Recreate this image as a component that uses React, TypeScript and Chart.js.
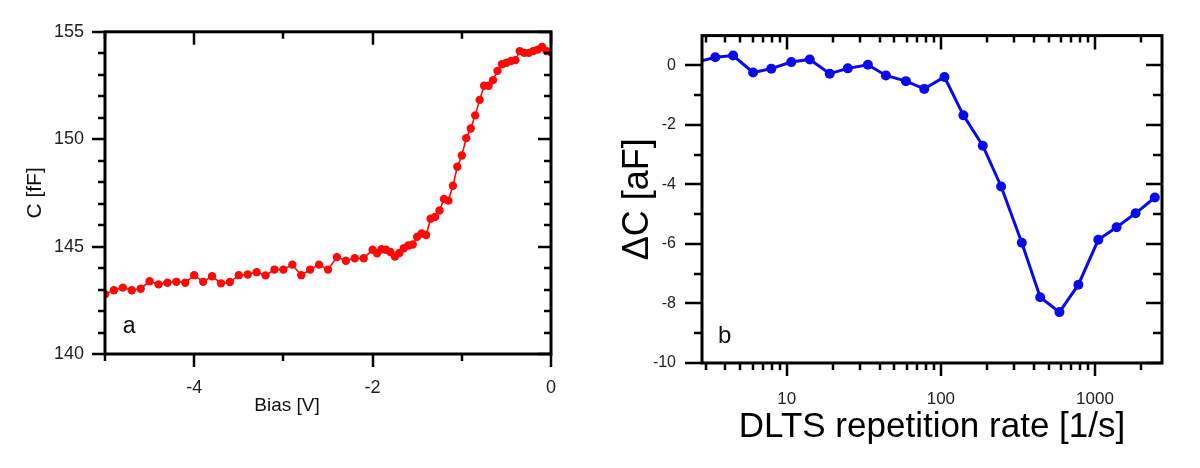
import React, { useEffect, useRef } from 'react';
import { Chart, registerables } from 'chart.js';

Chart.register(...registerables);

// ---- Panel a: C-V curve ----
const biasV = [
  -5.0, -4.9, -4.8, -4.7, -4.6, -4.5, -4.4, -4.3, -4.2, -4.1,
  -4.0, -3.9, -3.8, -3.7, -3.6, -3.5, -3.4, -3.3, -3.2, -3.1,
  -3.0, -2.9, -2.8, -2.7, -2.6, -2.5, -2.4, -2.3, -2.2, -2.1,
  -2.0, -1.95, -1.9, -1.85, -1.8, -1.75, -1.7, -1.65, -1.6, -1.55,
  -1.5, -1.45, -1.4, -1.35, -1.3, -1.25, -1.2, -1.15, -1.1, -1.05,
  -1.0, -0.95, -0.9, -0.85, -0.8, -0.75, -0.7, -0.65, -0.6, -0.55,
  -0.5, -0.45, -0.4, -0.35, -0.3, -0.25, -0.2, -0.15, -0.1, -0.05, 0.0,
];
const capFF = [
  142.78, 142.97, 143.09, 142.97, 143.04, 143.39, 143.24, 143.32, 143.36, 143.32,
  143.67, 143.36, 143.62, 143.29, 143.35, 143.67, 143.7, 143.81, 143.66, 143.93,
  143.93, 144.16, 143.67, 143.93, 144.16, 143.93, 144.51, 144.34, 144.46, 144.46,
  144.85, 144.69, 144.88, 144.85, 144.75, 144.54, 144.7, 144.92, 145.05, 145.1,
  145.46, 145.61, 145.54, 146.3, 146.38, 146.68, 147.22, 147.14, 147.83, 148.72,
  149.24, 150.05, 150.5, 151.11, 151.83, 152.49, 152.49, 152.75, 153.18, 153.49,
  153.56, 153.64, 153.68, 154.1, 154.02, 154.02, 154.1, 154.17, 154.3, 154.1, 154.05,
];
const leftXMajor = [-4, -2, 0];
const leftXMinor = [-5, -3, -1];
const leftYMajor = [140, 145, 150, 155];
const leftYMinor = [141, 142, 143, 144, 146, 147, 148, 149, 151, 152, 153, 154];

// ---- Panel b: DLTS spectrum ----
const rateHz = [
  2.6, 3.44, 4.49, 6.05, 7.94, 10.7, 14.1, 19.0, 24.9, 33.6, 44.0, 59.3, 78.0,
  105.5, 140, 187, 246, 335, 441, 588, 780, 1050, 1380, 1833, 2443,
];
const deltaCaF = [
  0.11, 0.27, 0.33, -0.24, -0.11, 0.11, 0.2, -0.28, -0.1, 0.02, -0.34, -0.53, -0.79,
  -0.39, -1.68, -2.7, -4.07, -5.96, -7.79, -8.29, -7.37, -5.86, -5.44, -4.97, -4.44,
];
const rightXMajor = [10, 100, 1000];
const rightXMinor = [3, 4, 5, 6, 7, 8, 9, 20, 30, 40, 50, 60, 70, 80, 90, 200, 300, 400, 500, 600, 700, 800, 900, 2000];
const rightYMajor = [-10, -8, -6, -4, -2, 0];
const rightYMinor = [-9, -7, -5, -3, -1];

const FONT = "'Liberation Sans', Arial, Helvetica, sans-serif";
const RED = '#ff0808';
const BLUE = '#0a0aeb';

type FrameCfg = {
  xMajor: number[]; xMinor: number[]; yMajor: number[]; yMinor: number[];
  bottom: [number, number]; top: [number, number]; left: [number, number]; right: [number, number];
  frameWidth: number; tickWidth: number;
  texts: (chart: any) => { text: string; x: number; y: number; font: string; align: CanvasTextAlign }[];
};

function makeFramePlugin(cfg: FrameCfg) {
  return {
    id: 'frameTicks',
    afterDraw(chart: any) {
      const { ctx, chartArea: a, scales } = chart;
      const xs = scales.x;
      const ys = scales.y;
      ctx.save();
      ctx.strokeStyle = '#000';
      ctx.lineCap = 'butt';
      ctx.lineWidth = cfg.tickWidth;
      const xTicks = (vals: number[], major: boolean) => {
        for (const v of vals) {
          const px = Math.round(xs.getPixelForValue(v));
          const lb = major ? cfg.bottom[0] : cfg.bottom[1];
          const lt = major ? cfg.top[0] : cfg.top[1];
          ctx.beginPath();
          ctx.moveTo(px, a.bottom);
          ctx.lineTo(px, a.bottom + lb);
          ctx.moveTo(px, a.top);
          ctx.lineTo(px, a.top + lt);
          ctx.stroke();
        }
      };
      const yTicks = (vals: number[], major: boolean) => {
        for (const v of vals) {
          const py = Math.round(ys.getPixelForValue(v));
          const ll = major ? cfg.left[0] : cfg.left[1];
          const lr = major ? cfg.right[0] : cfg.right[1];
          ctx.beginPath();
          ctx.moveTo(a.left, py);
          ctx.lineTo(a.left - ll, py);
          ctx.moveTo(a.right, py);
          ctx.lineTo(a.right - lr, py);
          ctx.stroke();
        }
      };
      xTicks(cfg.xMajor, true);
      xTicks(cfg.xMinor, false);
      yTicks(cfg.yMajor, true);
      yTicks(cfg.yMinor, false);
      ctx.lineWidth = cfg.frameWidth;
      ctx.strokeRect(a.left, a.top, a.right - a.left, a.bottom - a.top);
      ctx.fillStyle = '#111';
      ctx.textBaseline = 'alphabetic';
      for (const t of cfg.texts(chart)) {
        ctx.font = t.font;
        ctx.textAlign = t.align;
        ctx.fillText(t.text, t.x, t.y);
      }
      ctx.restore();
    },
  };
}

function PanelA() {
  const ref = useRef<HTMLCanvasElement>(null);
  useEffect(() => {
    if (!ref.current) return;
    const plugin = makeFramePlugin({
      xMajor: leftXMajor, xMinor: leftXMinor, yMajor: leftYMajor, yMinor: leftYMinor,
      bottom: [13, 7], top: [13, 7], left: [13, 7], right: [13, 7],
      frameWidth: 3, tickWidth: 2.5,
      texts: (chart) => {
        const { x, y } = chart.scales;
        return [
          { text: 'a', x: x.getPixelForValue(-4.73), y: y.getPixelForValue(140.96), font: `23px ${FONT}`, align: 'center' },
          { text: 'Bias [V]', x: x.getPixelForValue(-2.96), y: chart.chartArea.bottom + 57, font: `19px ${FONT}`, align: 'center' },
        ];
      },
    });
    const chart = new Chart(ref.current, {
      type: 'line',
      data: {
        datasets: [{
          data: biasV.map((b, i) => ({ x: b, y: capFF[i] })),
          borderColor: RED,
          backgroundColor: RED,
          pointBackgroundColor: RED,
          pointBorderColor: RED,
          pointRadius: 4.2,
          pointBorderWidth: 0,
          borderWidth: 1.6,
          tension: 0,
          clip: 0,
        }],
      },
      options: {
        responsive: false,
        animation: false,
        events: [],
        layout: { padding: { left: 0, right: 49, top: 27, bottom: 0 } },
        plugins: { legend: { display: false }, tooltip: { enabled: false } },
        scales: {
          x: {
            type: 'linear', min: -5, max: 0,
            afterBuildTicks: (s: any) => { s.ticks = leftXMajor.map((v) => ({ value: v })); },
            afterFit: (s: any) => { s.height = 114; },
            grid: { display: false, drawTicks: false },
            border: { display: false },
            ticks: { padding: 23, autoSkip: false, maxRotation: 0, color: '#222', font: { family: FONT, size: 18 }, callback: (v: any) => String(v) },
          },
          y: {
            type: 'linear', min: 140, max: 155,
            afterBuildTicks: (s: any) => { s.ticks = leftYMajor.map((v) => ({ value: v })); },
            afterFit: (s: any) => { s.width = 105; },
            grid: { display: false, drawTicks: false },
            border: { display: false },
            ticks: { padding: 21, autoSkip: false, color: '#222', font: { family: FONT, size: 18 }, callback: (v: any) => String(v) },
            title: { display: true, text: 'C [fF]', color: '#111', font: { family: FONT, size: 21 }, padding: { top: 23, bottom: 0 } },
          },
        },
      },
      plugins: [plugin],
    } as any);
    return () => chart.destroy();
  }, []);
  return <canvas ref={ref} width={600} height={468} style={{ position: 'absolute', left: 0, top: 0, width: 600, height: 468 }} />;
}

function PanelB() {
  const ref = useRef<HTMLCanvasElement>(null);
  useEffect(() => {
    if (!ref.current) return;
    const plugin = makeFramePlugin({
      xMajor: rightXMajor, xMinor: rightXMinor, yMajor: rightYMajor, yMinor: rightYMinor,
      bottom: [13, 7], top: [14, 7], left: [17, 8], right: [16, 9],
      frameWidth: 3, tickWidth: 2.5,
      texts: (chart) => {
        const { x, y } = chart.scales;
        return [
          { text: 'b', x: x.getPixelForValue(3.95), y: y.getPixelForValue(-9.32), font: `24px ${FONT}`, align: 'center' },
        ];
      },
    });
    const chart = new Chart(ref.current, {
      type: 'line',
      data: {
        datasets: [{
          data: rateHz.map((r, i) => ({ x: r, y: deltaCaF[i] })),
          borderColor: BLUE,
          backgroundColor: BLUE,
          pointBackgroundColor: BLUE,
          pointBorderColor: BLUE,
          pointRadius: 5,
          pointBorderWidth: 0,
          borderWidth: 3,
          tension: 0,
          clip: 0,
        }],
      },
      options: {
        responsive: false,
        animation: false,
        events: [],
        layout: { padding: { left: 0, right: 38, top: 28, bottom: 0 } },
        plugins: { legend: { display: false }, tooltip: { enabled: false } },
        scales: {
          x: {
            type: 'logarithmic', min: 2.82, max: 2720,
            afterBuildTicks: (s: any) => { s.ticks = rightXMajor.map((v) => ({ value: v })); },
            afterFit: (s: any) => { s.height = 105; },
            grid: { display: false, drawTicks: false },
            border: { display: false },
            ticks: { padding: 26, autoSkip: false, maxRotation: 0, color: '#222', font: { family: FONT, size: 17 }, callback: (v: any) => String(v) },
            title: { display: true, text: 'DLTS repetition rate [1/s]', color: '#000', font: { family: FONT, size: 35 }, padding: { top: 0, bottom: 20 } },
          },
          y: {
            type: 'linear', min: -10, max: 1,
            afterBuildTicks: (s: any) => { s.ticks = rightYMajor.map((v) => ({ value: v })); },
            afterFit: (s: any) => { s.width = 102; },
            grid: { display: false, drawTicks: false },
            border: { display: false },
            ticks: { padding: 26, autoSkip: false, color: '#222', font: { family: FONT, size: 16 }, callback: (v: any) => String(v) },
            title: { display: true, text: 'ΔC [aF]', color: '#000', font: { family: FONT, size: 36 }, padding: { top: 16, bottom: 0 } },
          },
        },
      },
      plugins: [plugin],
    } as any);
    return () => chart.destroy();
  }, []);
  return <canvas ref={ref} width={600} height={468} style={{ position: 'absolute', left: 600, top: 0, width: 600, height: 468 }} />;
}

export default function App() {
  return (
    <div style={{ position: 'fixed', left: 0, top: 0, width: 1200, height: 468, background: '#fff', overflow: 'hidden' }}>
      <PanelA />
      <PanelB />
    </div>
  );
}
